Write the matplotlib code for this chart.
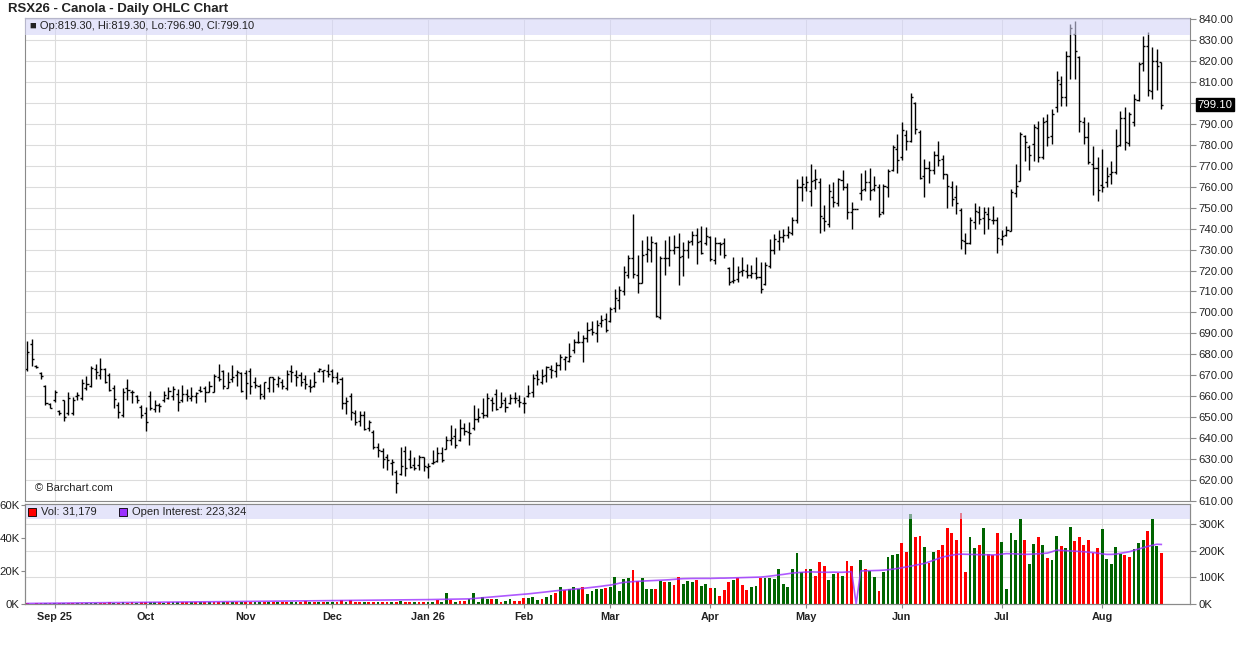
import numpy as np
import pandas as pd
import matplotlib
matplotlib.use('Agg')
import matplotlib.pyplot as plt
from matplotlib.transforms import blended_transform_factory

plt.rcParams['font.family'] = ['Liberation Sans', 'DejaVu Sans']

# trading calendar
start_date, end_date = '2025-08-22', '2026-08-20'
holidays = ['2025-09-01', '2025-09-30', '2025-10-13', '2025-11-11', '2025-12-25',
            '2025-12-26', '2026-01-01', '2026-02-16', '2026-04-03', '2026-07-01']

# daily OHLC
opens = [673, 685, 674.3, 671, 665, 656.5, 658, 653, 658, 652, 652, 660, 659, 664, 665, 673, 670, 673, 670, 664,
         656, 651, 664, 662, 660, 655, 652, 660, 654, 656, 658, 659, 660, 661, 658, 661, 659, 660, 663, 664,
         662, 662, 669, 672, 664, 668, 670, 671, 671, 672, 667, 665, 660, 664, 669, 666, 667, 664, 672, 670,
         670, 668, 665, 665, 672, 672, 672, 672, 669, 668, 657, 660, 652, 648, 651, 645, 643, 636, 634, 631,
         628, 624, 623, 634, 630, 627, 627, 631, 626, 628, 629, 633, 635, 639, 641, 639, 645, 643, 645, 649,
         652, 651, 658, 661, 655, 658, 657, 659, 658, 657, 660, 662, 670, 667, 670, 673, 672, 675, 678, 677,
         682, 686, 686, 688, 692, 690, 695, 697, 696, 702, 706, 710, 718, 726, 718, 714, 728, 730, 733, 698,
         726, 726, 730, 731, 727, 730, 734, 737, 734, 733, 736, 725, 733, 733, 721, 715, 716, 720, 720, 718,
         719, 717, 713.5, 722, 730, 734, 736, 737, 738, 744, 760, 760, 758, 763, 762, 745, 742, 755, 752, 763,
         760, 748, 749.3, 757, 759, 762, 759, 760, 748, 760, 768, 778, 774, 784.5, 781.8, 800, 786, 765, 769, 768,
         775, 773, 766, 760, 755, 749, 734, 733, 743, 748, 745, 747, 744, 744, 735, 737, 739, 757, 762.6, 784,
         779, 780.4, 788, 774, 791.5, 784, 797.9, 809, 803, 822.5, 832.9, 822, 791, 783.6, 771, 769, 761, 762, 766, 767,
         780, 793, 781, 791, 801.5, 818.9, 827.3, 805.8, 820, 819.3]
highs = [686.5, 687.3, 674.8, 671.5, 665.5, 657, 663, 653.4, 658.4, 662.1, 659.8, 662.2, 668.2, 669.5, 674.4, 675.2, 678.4, 673.5, 671, 665.5,
         657.4, 664, 668.2, 663, 660.6, 655.8, 655, 662.3, 658.4, 657, 662.3, 664.4, 664.7, 663.5, 665.3, 663.4, 664.2, 662, 665, 665,
         667.4, 670.6, 675.5, 672.3, 671.5, 675, 672.3, 671.8, 672.3, 673.4, 669, 665.8, 666.6, 669, 669, 669.8, 668.2, 672.3, 674.7, 672.3,
         671.8, 670.2, 668.2, 671.8, 673.4, 672.7, 675.5, 673, 671.5, 669, 659.4, 661.5, 653.6, 652.8, 652.8, 648.8, 643.7, 637.6, 635.2, 632.4,
         630, 624.9, 636, 636.3, 634.1, 631.2, 632, 631.2, 628, 634.4, 635.7, 636, 641.1, 646.4, 644.8, 649.1, 647.2, 647.5, 656, 654.4,
         659, 661.7, 659.4, 663.3, 662.1, 659.8, 661.3, 662.1, 660.6, 659.8, 665.3, 670.6, 672.5, 672.8, 674.4, 674.9, 676.5, 680.1, 679.2, 685.2,
         687.1, 691.2, 689.2, 695.5, 696, 696.3, 698.7, 699.5, 702.7, 711, 712.6, 722.2, 727.4, 747, 727.4, 734.6, 736.5, 736.5, 733.8, 727,
         734.6, 736.5, 737, 737.8, 733.8, 734.6, 739, 740.1, 741.3, 740.9, 736.5, 736.2, 733.8, 735.4, 721.9, 726.3, 722.2, 726.3, 723.1, 722.6,
         726.6, 724.2, 724.2, 735, 737.5, 739.5, 740, 741, 745.5, 763.7, 765.3, 765.3, 770.6, 768.5, 764, 751.4, 761.3, 762.1, 764.2, 768,
         761.6, 752.5, 749.3, 766.4, 768, 769, 765.3, 761.3, 761.3, 768.5, 779.7, 785.3, 790.9, 786.9, 804.8, 800.5, 787.2, 773.3, 772.2, 777,
         781.8, 774.9, 766.1, 762.9, 761, 749.8, 738.1, 745.6, 752, 750.9, 750.1, 750.1, 750.9, 745.6, 739.2, 741.3, 758.9, 770.6, 786.1, 784.5,
         779.7, 790, 791.5, 793.1, 794.7, 797.1, 815.4, 813, 824.9, 837.6, 839.2, 822.5, 793.4, 790.7, 779.6, 774, 778, 769.3, 772.4, 787.6,
         796.3, 797.9, 795.5, 804.2, 819.3, 832.1, 833.7, 826.5, 825.7, 819.3]
lows = [672, 674.4, 673.3, 668.2, 655.8, 654.2, 657.4, 651, 648.2, 651, 651, 658.4, 658.4, 663, 664.5, 668, 668, 666.3, 662.3, 654.2,
        649.8, 650.2, 658.2, 656.6, 656.6, 649.8, 643.4, 653.4, 652.6, 652.6, 657.4, 658.5, 658.2, 652.8, 657.3, 657.7, 657.7, 657, 662.1, 657.3,
        661.8, 661.8, 667.4, 663.4, 663.7, 666.6, 665, 661.8, 658.9, 661, 663.7, 658.9, 658.5, 661.8, 662.1, 664.2, 663.4, 663, 666.6, 665,
        665, 663.4, 661.8, 664.2, 671.5, 666.6, 669, 666.6, 665.8, 654, 651.3, 648.8, 646.4, 645.6, 644, 643.2, 634.8, 631.2, 625.7, 624.9,
        622.5, 614, 622.5, 622, 625.7, 624.9, 624.9, 624.1, 620.9, 627.5, 628.8, 628.8, 634.8, 636.8, 635.2, 638.4, 641.6, 636.8, 644, 647.5,
        649.4, 650.2, 653, 653.4, 655, 652.6, 656.2, 656.9, 655, 651.8, 659.8, 659.8, 665.3, 665.8, 666.9, 668.5, 669, 672.5, 672.5, 676.5,
        680.7, 685.2, 676.5, 686, 689.2, 686, 693.1, 690.8, 695.5, 700, 701.5, 708.3, 716.3, 716.3, 709.5, 713.9, 724.2, 724.2, 698, 697,
        717.9, 722.2, 727.9, 713.1, 717.4, 725.8, 732.2, 723.1, 727.9, 732.2, 724.7, 723.1, 727.4, 725.8, 713.1, 713.9, 714.7, 717.4, 716.3, 716.3,
        715.8, 709.1, 713.1, 721, 728, 730, 733.5, 735.5, 737, 742.9, 753.3, 758.1, 750.9, 758.9, 738, 738.9, 740.8, 750.4, 750.9, 758.4,
        744.5, 739.7, 749.3, 753.6, 757.8, 753.6, 758.1, 745.6, 747.2, 755.2, 767.4, 766.4, 772.5, 777.6, 781.3, 785, 763.7, 755.2, 761.6, 766,
        770.1, 763.7, 749.8, 750.9, 746.9, 730.1, 728, 732.5, 739.7, 742.1, 737.3, 739.7, 742.4, 728.5, 732.2, 736.5, 738.9, 755.2, 762.6, 772.2,
        768, 772.4, 771.7, 773.2, 779.6, 780.4, 795.5, 798.7, 798.7, 811.4, 811.4, 786, 780.4, 770.9, 755.8, 753.4, 757.4, 759.7, 761.3, 766.1,
        779.6, 777.5, 779.6, 789.1, 800.7, 815.4, 803.5, 801.9, 806.2, 796.9]
closes = [681, 678, 673.8, 669.5, 657, 654.5, 662, 652, 650, 659, 658.4, 660.5, 666.3, 666, 673.5, 671.6, 673, 667, 663, 658.5,
          652.6, 662.2, 663, 661.8, 658.2, 651, 647.7, 654.2, 655.8, 655.5, 660.4, 662.3, 663.4, 657.4, 661, 660, 660.2, 661.5, 662.6, 661.8,
          665, 669.8, 668.2, 665, 666.6, 669, 671.5, 662.6, 666.3, 665, 665.3, 661, 666.6, 669, 668.2, 668.5, 665, 670.6, 671.5, 669,
          666.6, 665.8, 664.2, 666.6, 673, 672.3, 670.6, 669, 666.6, 657, 657.6, 652.3, 647.5, 651.2, 644.3, 647.5, 635.7, 634.4, 630, 629.6,
          628.5, 618.5, 626.5, 625.7, 626, 625.7, 631.2, 626.5, 626.5, 628.4, 632.8, 629.6, 639.2, 640, 636.8, 644.8, 643.2, 642.4, 649.1, 650,
          651, 659, 656.6, 654, 657, 655, 659, 659, 657.4, 656.6, 661.7, 668.5, 668, 669.6, 673.8, 672.5, 674.9, 678.8, 678.5, 679.2,
          686, 686, 688, 691.6, 690.8, 694, 696.6, 691.6, 701.4, 707, 710.7, 719.5, 725.8, 718.4, 714.2, 727.4, 730.1, 733.8, 698.3, 726,
          725.8, 729.8, 731.4, 726.6, 729.8, 733.8, 737, 733.8, 728.2, 736.5, 725.4, 733.3, 732.7, 727.4, 714.7, 715.5, 719.5, 720.3, 717.9, 718.7,
          717.1, 711, 722.6, 730, 735, 736, 737, 738.5, 744, 760, 761.3, 762, 762.9, 763.7, 746, 743.7, 758, 752.5, 763.7, 759.7,
          747.7, 749.3, 749.3, 758.4, 762.1, 758.4, 761, 747.2, 760.5, 767.7, 778.9, 772.8, 786.9, 782, 802.6, 787.7, 764, 769, 768, 774.9,
          772.8, 766.1, 760.5, 754.1, 752.2, 734.4, 733.3, 744, 748.5, 744.5, 747.7, 744.5, 744, 735.4, 736.5, 739.2, 757.3, 760.5, 785, 781.3,
          774.9, 788.7, 774, 791, 783.6, 794.7, 810.9, 803, 822.5, 835.7, 824.6, 791.2, 783.6, 771.7, 769, 758.5, 760, 765.3, 767, 779.6,
          793, 781.2, 794.7, 802, 818.4, 827.3, 806.2, 819.8, 817.8, 799.1]

# volume (thousands) and colour flags by month
volume = ([0.4, 0.3, 0.5, 0.4, 0.6, 0.5] +
          [0.6, 0.5, 0.7, 0.6, 0.5, 0.8, 0.6, 0.7, 0.6, 0.9, 0.8, 0.7, 1.0, 0.9, 0.8, 1.1, 0.9, 1.0, 0.8, 1.0] +
          [1.4, 1.0, 1.2, 1.1, 0.9, 1.3, 1.2, 1.1, 1.0, 1.2, 1.4, 1.1, 1.0, 1.3, 1.2, 1.1, 1.5, 1.2, 1.0, 1.1, 1.3, 1.2] +
          [1.3, 1.1, 1.2, 1.4, 1.0, 1.2, 1.5, 1.1, 1.3, 1.2, 1.0, 1.4, 1.1, 1.6, 1.2, 1.3, 1.0, 1.1, 1.2] +
          [1.3, 1.2, 2.6, 1.1, 2.6, 1.0, 1.2, 1.1, 1.4, 1.0, 1.2, 1.5, 1.1, 1.3, 1.2, 1.8, 1.2, 1.0, 1.1, 1.3, 1.1] +
          [1.2, 1.4, 2.4, 1.1, 6.9, 2.4, 1.4, 1.8, 1.8, 3.0, 6.7, 1.4, 4.2, 3.0, 3.0, 3.0, 1.4, 1.8, 3.0, 1.8, 1.8] +
          [3.6, 3.6, 4.2, 2.4, 3.0, 4.4, 5.5, 6.7, 10.3, 8.5, 9.1, 10.3, 9.1, 10.3, 6.1, 7.9, 9.1, 9.1, 9.7] +
          [10.1, 16.4, 7.9, 15.2, 15.8, 20.6, 13.9, 15.8, 9.1, 9.1, 9.1, 13.9, 13.3, 13.3, 11.5, 16.4, 12.1, 13.9, 13.3, 14.5, 10.9, 12.1] +
          [9.7, 9.7, 4.8, 8.5, 13.3, 14.5, 15.8, 11.5, 8.5, 10.3, 10.9, 15.8, 15.8, 15.8, 15.2, 21.2, 12.1, 10.3, 21.2, 30.9, 19.4] +
          [21.2, 21.2, 17.0, 25.5, 23.0, 14.5, 18.0, 18.8, 17.0, 26.1, 23.0, 0, 26.7, 21.2, 20.0, 16.4, 7.9, 19.4, 28.5, 29.7, 30.3] +
          [37.0, 31.5, 54.5, 40.6, 41.2, 34.5, 24.8, 31.5, 32.7, 35.8, 46.0, 43.0, 38.8, 55.1, 19.4, 40.6, 33.9, 35.8, 46.0, 30.3, 29.7, 43.0] +
          [37.6, 9.1, 43.0, 38.8, 51.5, 38.8, 24.2, 36.4, 40.6, 35.8, 27.9, 26.7, 41.2, 35.1, 33.9, 46.7, 38.2, 40.6, 35.8, 38.8, 30.9, 33.9] +
          [45.4, 27.3, 24.2, 34.5, 30.3, 29.7, 28.5, 33.3, 37.0, 38.8, 44.2, 51.5, 35.1, 31.179])
vol_dir = ("rgrrgr" + "grgrrgrgggrrrgrgrrgr" + "rggrgrggrrgrgrgrrgrgrg" + "rrggrgrgrrggrrgrgrg" +
           "grrgrrrgrrgrrgrgrrgrr" + "ggrggrgrrgggggrgrggrr" + "rgggrggrgrgggrggggr" +
           "gggggrrgggrgrgrrgggrgg" + "rgrrrgrrrggrggggggggg" + "rgrrrggrgrrggrggrgggg" +
           "rrgrrgrgrrrrrrrggrgrrr" + "gggggrggrgrggrggrrrrrr" + "gggggrrgggrggr")

# open interest (thousands)
open_interest = ([2.0, 2.2, 2.4, 2.6, 2.8, 3.0] +
                 [3.2, 3.4, 3.5, 3.7, 3.9, 4.0, 4.2, 4.3, 4.5, 4.6, 4.8, 4.9, 5.1, 5.2, 5.4, 5.5, 5.7, 5.8, 6.0, 6.1] +
                 [6.3, 6.4, 6.6, 6.7, 6.9, 7.0, 7.2, 7.3, 7.5, 7.6, 7.8, 7.9, 8.1, 8.2, 8.4, 8.5, 8.7, 8.8, 9.0, 9.1, 9.3, 9.4] +
                 [9.6, 9.8, 10.0, 10.1, 10.3, 10.5, 10.6, 10.8, 11.0, 11.1, 11.3, 11.5, 11.6, 11.8, 12.0, 12.1, 12.3, 12.5, 12.6] +
                 [12.8, 13.0, 13.2, 13.4, 13.5, 13.7, 13.9, 14.1, 14.2, 14.4, 14.6, 14.8, 14.9, 15.1, 15.3, 15.5, 15.6, 15.8, 16.0, 16.1, 16.3] +
                 [16.5, 16.8, 17.0, 17.3, 17.6, 17.9, 18.2, 18.5, 18.8, 19.2, 20.5, 22.0, 23.5, 25.0, 26.5, 28.0, 29.5, 31.0, 32.5, 34.0, 35.2] +
                 [36.5, 38.0, 39.8, 41.6, 43.5, 45.5, 47.5, 49.5, 51.0, 52.5, 54.0, 55.5, 57.0, 58.5, 60.5, 62.5, 64.5, 66.5, 69.0] +
                 [71.0, 74.0, 78.0, 81.0, 82.5, 84.0, 85.0, 86.0, 86.8, 87.5, 88.2, 89.0, 90.0, 91.0, 92.5, 94.0, 95.0, 95.5, 95.8, 96.0, 96.2, 96.0] +
                 [96.0, 96.5, 97.0, 97.0, 97.5, 98.0, 98.5, 99.0, 99.5, 100.0, 100.5, 101.0, 102.5, 104.5, 106.5, 109.0, 111.0, 113.5, 116.0, 117.5, 118.5] +
                 [120.0, 120.5, 120.0, 119.5, 119.0, 119.0, 119.5, 119.0, 119.0, 120.0, 121.0, 0, 124.0, 124.5, 125.0, 125.5, 126.0, 127.0, 128.5, 130.5, 133.0] +
                 [136.0, 139.0, 142.0, 145.5, 149.0, 152.0, 158.0, 164.0, 170.0, 176.0, 180.0, 183.0, 186.0, 187.0, 186.5, 186.0, 185.5, 185.0, 185.0, 184.5, 184.0, 185.0] +
                 [187.0, 189.0, 188.5, 188.0, 187.0, 186.0, 186.5, 187.5, 188.5, 189.5, 191.0, 196.0, 202.0, 201.0, 200.0, 199.0, 198.0, 197.0, 196.0, 194.0, 193.0, 191.0] +
                 [188.0, 186.0, 186.0, 187.0, 190.0, 193.0, 196.0, 201.0, 206.0, 211.0, 216.0, 220.0, 224.0, 223.324])

dates = pd.bdate_range(start_date, end_date)
dates = dates[~dates.isin(pd.to_datetime(holidays))]
n = len(closes)
dates = dates[:n]
x = np.arange(n)

# month ticks = first trading day of each month (skip the partial first one)
month_key = dates.year * 12 + dates.month
first_idx = [i for i in range(1, n) if month_key[i] != month_key[i - 1]]
month_lbl = [dates[i].strftime('%b %y') if (dates[i].month == 1 or k == 0) else dates[i].strftime('%b')
             for k, i in enumerate(first_idx)]

grid_c = '#dcdcdc'
spine_c = '#8a8a8a'
band_c = '#d5d5f7'
txt_c = '#222222'

fig = plt.figure(figsize=(12.36, 6.45), dpi=100)
ax1 = fig.add_axes([25 / 1236, 1 - 501 / 645, 1165 / 1236, 483 / 645])
ax2 = fig.add_axes([25 / 1236, 1 - 604 / 645, 1165 / 1236, 100 / 645])

# --- price panel
ax1.vlines(x, lows, highs, color='black', lw=1.0, zorder=2)
ax1.hlines(opens, x - 0.45, x, color='black', lw=1.0, zorder=2)
ax1.hlines(closes, x, x + 0.45, color='black', lw=1.0, zorder=2)
ax1.set_xlim(-0.5, n - 1 + 6.3)
ax1.set_ylim(610, 840.5)
ax1.set_yticks(np.arange(610, 841, 10))
ax1.yaxis.set_major_formatter(plt.FormatStrFormatter('%.2f'))
ax1.yaxis.tick_right()
ax1.tick_params(axis='y', direction='out', length=4, width=0.8, pad=2, labelsize=8.2,
                color=spine_c, labelcolor=txt_c)
ax1.set_xticks(first_idx)
ax1.tick_params(axis='x', length=0, labelbottom=False)
ax1.grid(True, color=grid_c, lw=0.8, zorder=0)
ax1.set_axisbelow(True)
ax1.axhspan(832.4, 841, color=band_c, alpha=0.6, lw=0, zorder=3)
for s in ax1.spines.values():
    s.set_color(spine_c)

ax1.text(0.004, 0.983, '\u25a0 Op:819.30, Hi:819.30, Lo:796.90, Cl:799.10', transform=ax1.transAxes,
         fontsize=8, color=txt_c, va='center', ha='left', zorder=5)
ax1.text(0.009, 0.027, '\u00a9 Barchart.com', transform=ax1.transAxes, fontsize=8,
         color=txt_c, va='center', ha='left')
tr = blended_transform_factory(ax1.transAxes, ax1.transData)
ax1.text(1.0065, closes[-1], f'{closes[-1]:.2f}', transform=tr, fontsize=8.2, color='white',
         va='center', ha='left', bbox=dict(facecolor='black', edgecolor='black', pad=1.2), zorder=6)

# --- volume / open interest panel
vol = np.array(volume)
cols = np.where(np.array(list(vol_dir)) == 'g', '#006400', '#ff0000')
vol_top = 60.6
oi_top = 375
ax2.bar(x, vol, width=0.62, color=cols, lw=0, zorder=2)
ax2.axhspan(51.5, vol_top + 1, color=band_c, alpha=0.6, lw=0, zorder=3)
ax2.set_xlim(ax1.get_xlim())
ax2.set_ylim(0, vol_top)
ax2.set_yticks([0, 20, 40, 60])
ax2.set_yticklabels(['0K', '20K', '40K', '60K'])
ax2.set_yticks(np.array([100, 200, 300]) * vol_top / oi_top, minor=True)
ax2.tick_params(axis='y', which='major', direction='out', length=3, width=0.8, pad=1,
                labelsize=8.2, color=spine_c, labelcolor=txt_c)
ax2.tick_params(axis='y', which='minor', length=0)
ax2.grid(True, axis='y', which='minor', color=grid_c, lw=0.8, zorder=0)
ax2.set_xticks(first_idx)
ax2.set_xticklabels(month_lbl, fontweight='bold', fontsize=7.8, color=txt_c)
ax2.tick_params(axis='x', direction='out', length=3, width=0.8, pad=3, color=spine_c)
ax2.grid(True, axis='x', color=grid_c, lw=0.8, zorder=0)
ax2.set_axisbelow(True)
for s in ax2.spines.values():
    s.set_color(spine_c)

ax2o = ax2.twinx()
ax2o.plot(x, open_interest, color='#9b30ff', lw=1.2, alpha=0.8, zorder=4)
ax2o.set_ylim(0, oi_top)
ax2o.set_yticks([0, 100, 200, 300])
ax2o.set_yticklabels(['0K', '100K', '200K', '300K'])
ax2o.tick_params(axis='y', direction='out', length=4, width=0.8, pad=2, labelsize=8.2,
                 color=spine_c, labelcolor=txt_c)
for s in ax2o.spines.values():
    s.set_color(spine_c)

ax2o.scatter([0.006], [0.92], s=32, marker='s', color='#ff0000', edgecolor='black', lw=0.6,
             transform=ax2o.transAxes, zorder=6, clip_on=False)
ax2o.text(0.0135, 0.92, f'Vol: {volume[-1] * 1000:,.0f}', transform=ax2o.transAxes, fontsize=8,
          color=txt_c, va='center', ha='left', zorder=6)
ax2o.scatter([0.0845], [0.92], s=32, marker='s', color='#9b30ff', edgecolor='black', lw=0.6,
             transform=ax2o.transAxes, zorder=6, clip_on=False)
ax2o.text(0.092, 0.92, f'Open Interest: {open_interest[-1] * 1000:,.0f}', transform=ax2o.transAxes,
          fontsize=8, color=txt_c, va='center', ha='left', zorder=6)

fig.text(8 / 1236, 1 - 9 / 645, 'RSX26 - Canola - Daily OHLC Chart', fontsize=9.5,
         fontweight='bold', color=txt_c, va='center', ha='left')

fig.savefig('out.png', dpi=100)
